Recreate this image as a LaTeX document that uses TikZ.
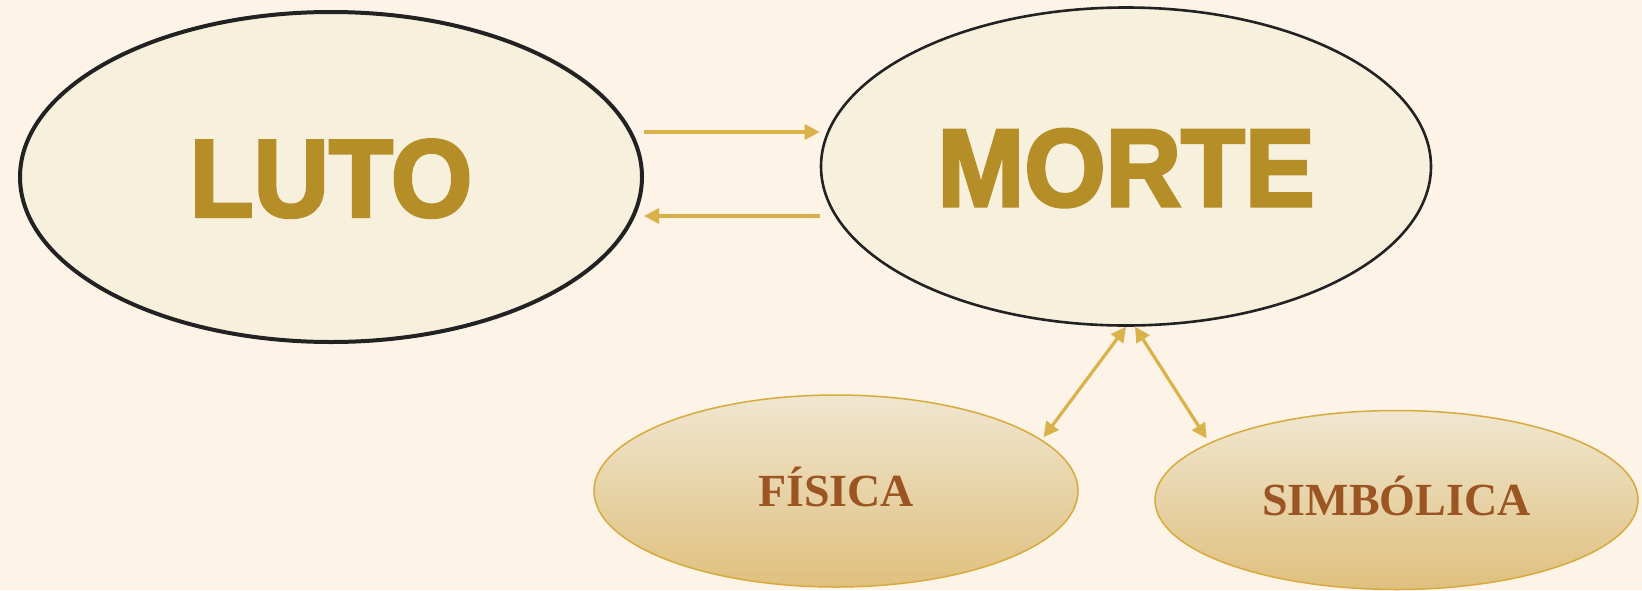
\documentclass[tikz,border=0pt]{standalone}
\usepackage{fontspec}
\usetikzlibrary{shapes.geometric,arrows.meta}
\newfontfamily\headfont[FakeBold=3]{Liberation Sans}
\newfontfamily\subfont{Liberation Serif}
\definecolor{bgc}{HTML}{FDF3E7}
\definecolor{bigfill}{HTML}{F7F0DC}
\definecolor{goldtext}{HTML}{B58E27}
\definecolor{arrowc}{HTML}{DAB24A}
\definecolor{gradtop}{HTML}{F0E6D0}
\definecolor{gradbot}{HTML}{DFC07E}
\definecolor{smallborder}{HTML}{D8AA3C}
\definecolor{subtext}{HTML}{9B5522}
\definecolor{darkline}{HTML}{222222}
\tikzset{
  bigell/.style={ellipse, draw=darkline, fill=bigfill, inner sep=0pt,
    text=goldtext, font=\headfont\bfseries\fontsize{110}{110}\selectfont,
    text height=79pt, text depth=0pt},
  smallell/.style={ellipse, draw=smallborder, line width=1.5pt, top color=gradtop, bottom color=gradbot,
    inner sep=0pt, text=subtext, font=\subfont\bfseries\fontsize{46}{46}\selectfont,
    text height=30pt, text depth=0pt},
  arr/.style={draw=arrowc, line width=3.2pt, -{Triangle[length=15pt,width=15pt]}, arrowc},
  darr/.style={draw=arrowc, line width=3.2pt, {Triangle[length=15pt,width=15pt]}-{Triangle[length=15pt,width=15pt]}, arrowc}
}
\begin{document}
\begin{tikzpicture}[x=1pt,y=-1pt]
\fill[bgc] (0,0) rectangle (1642,590);
\useasboundingbox (0,0) rectangle (1642,590);
\node[bigell, line width=4pt, minimum width=622pt, minimum height=330pt] (luto) at (331,177) {\scalebox{0.95}[1]{LUTO}};
\node[bigell, line width=2.6pt, minimum width=610pt, minimum height=318pt] (morte) at (1126,166.5) {\scalebox{0.95}[1]{MORTE}};
\node[smallell, minimum width=484pt, minimum height=192pt] (fisica) at (836,491) {FÍSICA};
\node[smallell, minimum width=483pt, minimum height=179pt] (simbolica) at (1396.5,500) {SIMBÓLICA};
\draw[arr] ([yshift=45pt]luto.east) -- ([yshift=45pt]luto.east -| morte.west);
\draw[arr] ([yshift=-39pt]luto.east -| morte.west) -- ([yshift=-39pt]luto.east);
\draw[darr, shorten >=3pt] (morte.south) -- (fisica.14);
\draw[darr, shorten >=5pt] ([xshift=9pt]morte.south) -- (simbolica.163);
\end{tikzpicture}
\end{document}
